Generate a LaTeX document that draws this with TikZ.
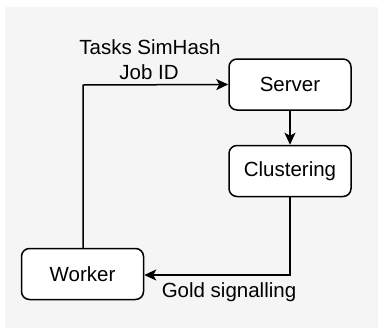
\documentclass[tikz,border=0pt]{standalone}
\usepackage{fontspec}
\setmainfont{Liberation Sans}
\usetikzlibrary{arrows.meta}
\definecolor{bggrey}{HTML}{F5F5F5}
\begin{document}
\begin{tikzpicture}[x=1pt,y=-1pt,
  box/.style={draw=black,line width=1.5pt,fill=white,rounded corners=8pt,minimum width=122pt,minimum height=51pt,inner sep=0pt,font=\fontsize{20.5}{24}\selectfont},
  conn/.style={draw=black,line width=1.5pt,-{Stealth[length=12pt,width=11pt,inset=3pt]}},
  lbl/.style={font=\fontsize{20.5}{24}\selectfont,inner sep=0pt}]
\useasboundingbox (0,0) rectangle (378,330);
\fill[bggrey] (5,7) rectangle (378,328);
\node[box] (server) at (290,84.5) {Server};
\node[box] (clust) at (290,171) {Clustering};
\node[box] (worker) at (82.5,274) {Worker};
\coordinate (c1) at (83,85);
\coordinate (c2) at (290,275);
\draw[conn] (worker.north -| c1) -- (c1) -- (server.west);
\draw[conn] (server) -- (clust);
\draw[conn] (clust.south) -- (c2) -- (worker.east |- c2);
\node[lbl] (t1) at (150,47) {Tasks SimHash};
\node[lbl] (t2) at (149,72) {Job ID};
\node[lbl] (t3) at (229,292) {Gold signalling};
\end{tikzpicture}
\end{document}
